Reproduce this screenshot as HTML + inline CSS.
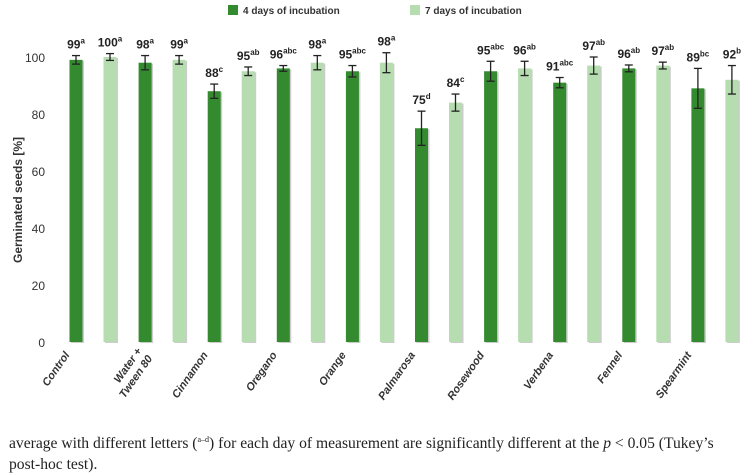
<!DOCTYPE html>
<html><head><meta charset="utf-8"><style>
body{margin:0;background:#fff;width:750px;height:474px;overflow:hidden;font-family:"Liberation Sans",sans-serif}
#cap{position:absolute;left:9px;top:429px;font-family:"Liberation Serif",serif;font-size:15.6px;line-height:21px;color:#222;width:745px;white-space:nowrap}
</style></head><body>
<svg id="chart" width="750" height="474" style="position:absolute;left:0;top:0" xmlns="http://www.w3.org/2000/svg"></svg>
<div id="cap">average with different letters (<sup style="font-size:8px">a–d</sup>) for each day of measurement are significantly different at the <i>p</i> &lt; 0.05 (Tukey’s<br>post-hoc test).</div>
<script>
const categories=["Control","Water +|Tween 80","Cinnamon","Oregano","Orange","Palmarosa","Rosewood","Verbena","Fennel","Spearmint"];
const day4=[99,98,88,96,95,75,95,91,96,89];
const day7=[100,99,95,98,98,84,96,97,97,92];
const err4=[1.5,2.5,2.5,1,2,6,3.5,1.8,1.2,7];
const err7=[1.2,1.5,1.5,2.5,3.5,3,2.5,3,1.2,5];
const lab4=["99|a","98|a","88|c","96|abc","95|abc","75|d","95|abc","91|abc","96|ab","89|bc"];
const lab7=["100|a","99|a","95|ab","98|a","98|a","84|c","96|ab","97|ab","97|ab","92|b"];
const yTicks=[0,20,40,60,80,100];
const svg=document.getElementById('chart');const NS="http://www.w3.org/2000/svg";
function el(t,a,p){const e=document.createElementNS(NS,t);for(const k in a)e.setAttribute(k,a[k]);(p||svg).appendChild(e);return e;}
const y=v=>342-v*2.85;
const x=i=>76+i*69.1;
const BW=13;
yTicks.forEach(t=>{const e=el('text',{x:45,y:y(t)+5,'text-anchor':'end','font-size':12,fill:'#333'});e.textContent=t;

});
const yt=el('text',{x:0,y:0,transform:'translate(22,200) rotate(-90)','text-anchor':'middle','font-size':12,'font-weight':'bold',fill:'#333'});yt.textContent="Germinated seeds [%]";


function bar(cx,v,e,lab,col,name){
 el('rect',{x:cx-BW/2+1.5,y:y(v)+1,width:BW,height:y(0)-y(v),fill:'#ccc'});
 const r=el('rect',{x:cx-BW/2,y:y(v),width:BW,height:y(0)-y(v),fill:col});
 
 
 const g=el('g',{stroke:'#222','stroke-width':1.3});
 el('line',{x1:cx,x2:cx,y1:y(v+e),y2:y(v-e)},g);
 el('line',{x1:cx-4,x2:cx+4,y1:y(v+e),y2:y(v+e)},g);
 el('line',{x1:cx-4,x2:cx+4,y1:y(v-e),y2:y(v-e)},g);
 
 
 const [n,s]=lab.split('|');
 const t=el('text',{x:cx,y:y(v+e)-7,'text-anchor':'middle','font-size':12,'font-weight':'bold',fill:'#222'});
 t.innerHTML=n+'<tspan font-size="8" dy="-5">'+s+'</tspan>';
 
 
}
categories.forEach((c,i)=>{
 bar(x(i),day4[i],err4[i],lab4[i],'#348a2f','bar-4-days');
 bar(x(i)+34,day7[i],err7[i],lab7[i],'#b6ddb0','bar-7-days');
 const lines=c.split('|');
 const cx=x(i)-6,cy=355;
 const t=el('text',{x:0,y:0,transform:`translate(${cx},${cy}) rotate(-55)`,'text-anchor':'end','font-size':11,'font-weight':'bold','font-style':'italic',fill:'#333'});
 lines.forEach((l,j)=>{const ts=el('tspan',{x:0,dy:j?13:0},t);ts.textContent=l;});
 if(lines.length>1)t.setAttribute('transform',`translate(${cx+3},${cy-4}) rotate(-55)`);
 
 
});
const lg=el('g',{});
el('rect',{x:228,y:5,width:10,height:10,fill:'#348a2f'},lg);
const l1=el('text',{x:243,y:14,'font-size':10,'font-weight':'bold',fill:'#333'},lg);l1.textContent="4 days of incubation";
el('rect',{x:410,y:5,width:10,height:10,fill:'#b6ddb0'},lg);
const l2=el('text',{x:425,y:14,'font-size':10,'font-weight':'bold',fill:'#333'},lg);l2.textContent="7 days of incubation";
</script>
</body></html>
